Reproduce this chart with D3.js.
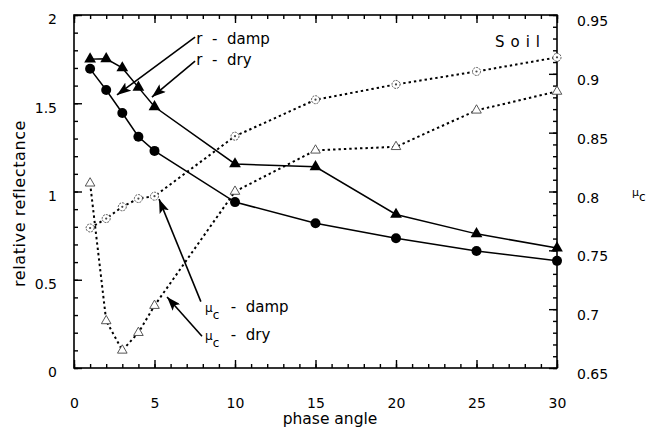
<!DOCTYPE html>
<html>
<head>
<meta charset="utf-8">
<script src="https://cdn.jsdelivr.net/npm/d3@7"></script>
<style>
  html, body { margin: 0; padding: 0; background: #fff; }
  svg { display: block; font-family: "DejaVu Sans", Verdana, sans-serif; }
</style>
</head>
<body>
<svg id="chart" width="647" height="430"></svg>
<script>
// ---- data ----
const phase   = [1, 2, 3, 4, 5, 10, 15, 20, 25, 30];
const rDamp   = [1.695, 1.575, 1.445, 1.31, 1.23, 0.94, 0.82, 0.735, 0.663, 0.607];
const rDry    = [1.75, 1.752, 1.70, 1.59, 1.48, 1.156, 1.14, 0.87, 0.76, 0.68];
const muDamp  = [0.769, 0.777, 0.787, 0.794, 0.796, 0.847, 0.878, 0.891, 0.902, 0.914];
const muDry   = [0.807, 0.690, 0.665, 0.680, 0.703, 0.800, 0.835, 0.838, 0.869, 0.885];

const xTicks    = [0, 5, 10, 15, 20, 25, 30];
const yTicks    = [0, 0.5, 1, 1.5, 2];
const muTicks   = [0.65, 0.7, 0.75, 0.8, 0.85, 0.9, 0.95];

// annotations in left-axis data units
const annotations = [
  { main: "r", sub: "", rest: " - damp", tail: [7.52, 1.875], tip: [2.67, 1.547], text: [7.6, 1.836] },
  { main: "r", sub: "", rest: " - dry",  tail: [7.52, 1.739], tip: [4.84, 1.535], text: [7.6, 1.717] },
  { main: "\u03bc", sub: "c", rest: " - damp", tail: [7.88, 0.376], tip: [5.28, 0.957], text: [8.14, 0.319] },
  { main: "\u03bc", sub: "c", rest: " - dry",  tail: [7.95, 0.18],  tip: [5.78, 0.402], text: [8.14, 0.160] }
];

// ---- layout ----
const W = 647, H = 430;
const m = { left: 74, top: 15, right: 90, bottom: 62 };
const iw = W - m.left - m.right, ih = H - m.top - m.bottom;

const svg = d3.select("#chart");
const g = svg.append("g").attr("transform", `translate(${m.left},${m.top})`);

const x  = d3.scaleLinear().domain([0, 30]).range([0, iw]);
const y  = d3.scaleLinear().domain([0, 2]).range([ih, 0]);
const y2 = d3.scaleLinear().domain([0.65, 0.95]).range([ih, 0]);

const fmt = d => String(d);
const F = 14;

function styleAxis(sel) {
  sel.select(".domain").remove();
  sel.selectAll("line").attr("stroke", "#000").attr("stroke-width", 1.4);
  sel.selectAll("text").attr("font-size", F).attr("fill", "#000")
     .attr("font-family", "DejaVu Sans, Verdana, sans-serif");
}

// bottom axis
g.append("g").attr("transform", `translate(0,${ih})`)
  .call(d3.axisBottom(x).tickValues(d3.range(0, 31, 1)).tickSizeInner(-4).tickSizeOuter(0).tickFormat(""))
  .call(styleAxis);
g.append("g").attr("transform", `translate(0,${ih})`)
  .call(d3.axisBottom(x).tickValues(xTicks).tickSizeInner(-8).tickSizeOuter(0).tickPadding(30).tickFormat(fmt))
  .call(styleAxis);
// top axis (mirror)
g.append("g")
  .call(d3.axisTop(x).tickValues(d3.range(0, 31, 1)).tickSizeInner(-4).tickSizeOuter(0).tickFormat(""))
  .call(styleAxis);
g.append("g")
  .call(d3.axisTop(x).tickValues(xTicks).tickSizeInner(-8).tickSizeOuter(0).tickFormat(""))
  .call(styleAxis);

// left axis
g.append("g")
  .call(d3.axisLeft(y).tickValues(d3.range(0, 21, 1).map(v => v / 10)).tickSizeInner(-4).tickSizeOuter(0).tickFormat(""))
  .call(styleAxis);
const yl = g.append("g")
  .call(d3.axisLeft(y).tickValues(yTicks).tickSizeInner(-8).tickSizeOuter(0).tickPadding(17).tickFormat(fmt))
  .call(styleAxis);
yl.selectAll("text").attr("dy", "0.64em");

// right axis
g.append("g").attr("transform", `translate(${iw},0)`)
  .call(d3.axisRight(y2).tickValues(d3.range(65, 96, 1).map(v => v / 100)).tickSizeInner(-4).tickSizeOuter(0).tickFormat(""))
  .call(styleAxis);
const yr = g.append("g").attr("transform", `translate(${iw},0)`)
  .call(d3.axisRight(y2).tickValues(muTicks).tickSizeInner(-8).tickSizeOuter(0).tickPadding(20).tickFormat(fmt))
  .call(styleAxis);
yr.selectAll("text").attr("dy", "0.75em");

// frame
g.append("rect").attr("x", 0).attr("y", 0).attr("width", iw).attr("height", ih)
  .attr("fill", "none").attr("stroke", "#000").attr("stroke-width", 1.6);

// ---- series ----
const pts = (vals) => phase.map((p, i) => [p, vals[i]]);

function drawLine(vals, ys, dotted) {
  g.append("path")
    .datum(pts(vals))
    .attr("fill", "none")
    .attr("stroke", "#000")
    .attr("stroke-width", dotted ? 2 : 1.5)
    .attr("stroke-dasharray", dotted ? "2.4,3" : null)
    .attr("d", d3.line().x(d => x(d[0])).y(d => ys(d[1])));
}
drawLine(muDamp, y2, true);
drawLine(muDry, y2, true);
drawLine(rDry, y, false);
drawLine(rDamp, y, false);

// open markers (mu)
g.selectAll(".mudamp").data(pts(muDamp)).join("circle")
  .attr("cx", d => x(d[0])).attr("cy", d => y2(d[1])).attr("r", 4)
  .attr("fill", "#fff").attr("stroke", "#444").attr("stroke-width", 0.9)
  .attr("stroke-dasharray", "2,1");
g.selectAll(".mudampdot").data(pts(muDamp)).join("circle")
  .attr("cx", d => x(d[0])).attr("cy", d => y2(d[1])).attr("r", 1.1)
  .attr("fill", "#444");
g.selectAll(".mudry").data(pts(muDry)).join("path")
  .attr("transform", d => `translate(${x(d[0])},${y2(d[1])})`)
  .attr("d", d3.symbol(d3.symbolTriangle, 40)())
  .attr("fill", "#fff").attr("stroke", "#444").attr("stroke-width", 0.9);

// filled markers (r)
g.selectAll(".rdry").data(pts(rDry)).join("path")
  .attr("transform", d => `translate(${x(d[0])},${y(d[1])})`)
  .attr("d", d3.symbol(d3.symbolTriangle, 60)())
  .attr("fill", "#000");
g.selectAll(".rdamp").data(pts(rDamp)).join("circle")
  .attr("cx", d => x(d[0])).attr("cy", d => y(d[1])).attr("r", 5)
  .attr("fill", "#000");

// ---- annotations ----
const defs = svg.append("defs");
defs.append("marker").attr("id", "arrow")
  .attr("viewBox", "0 0 14 10").attr("refX", 14).attr("refY", 5)
  .attr("markerWidth", 14).attr("markerHeight", 10)
  .attr("markerUnits", "userSpaceOnUse").attr("orient", "auto")
  .append("path").attr("d", "M0,0 L14,5 L0,10 L3,5 Z").attr("fill", "#000");

annotations.forEach(a => {
  g.append("line")
    .attr("x1", x(a.tail[0])).attr("y1", y(a.tail[1]))
    .attr("x2", x(a.tip[0])).attr("y2", y(a.tip[1]))
    .attr("stroke", "#000").attr("stroke-width", 1.6)
    .attr("marker-end", "url(#arrow)");
  const t = g.append("text")
    .attr("x", x(a.text[0])).attr("y", y(a.text[1]))
    .attr("font-size", 15).attr("fill", "#000")
    .style("white-space", "pre");
  if (a.sub) {
    t.append("tspan").attr("font-size", 12).text(a.main);
    t.append("tspan").attr("font-size", 12).attr("dy", 7).text(a.sub);
    t.append("tspan").attr("dy", -7).attr("dx", 2).text(a.rest.replace(" - ", "  -  "));
  } else {
    t.append("tspan").text(a.main + a.rest.replace(" - ", "  -  "));
  }
});

// "Soil"
g.append("text").attr("x", x(30) - 62).attr("y", 32)
  .attr("font-size", 15).attr("letter-spacing", 6).attr("fill", "#000").text("Soil");

// axis titles
svg.append("text")
  .attr("transform", `translate(25,${m.top + ih / 2 + 12}) rotate(-90)`)
  .attr("text-anchor", "middle").attr("font-size", 16).attr("letter-spacing", 0.6)
  .attr("fill", "#000").text("relative reflectance");

svg.append("text")
  .attr("x", 330).attr("y", 424)
  .attr("text-anchor", "middle").attr("font-size", 15.5).attr("fill", "#000")
  .text("phase angle");

const mu = svg.append("text").attr("x", 632).attr("y", 196).attr("font-size", 11).attr("fill", "#000");
mu.append("tspan").text("\u03bc");
mu.append("tspan").attr("dy", 5).attr("font-size", 12).text("c");
</script>
</body>
</html>
